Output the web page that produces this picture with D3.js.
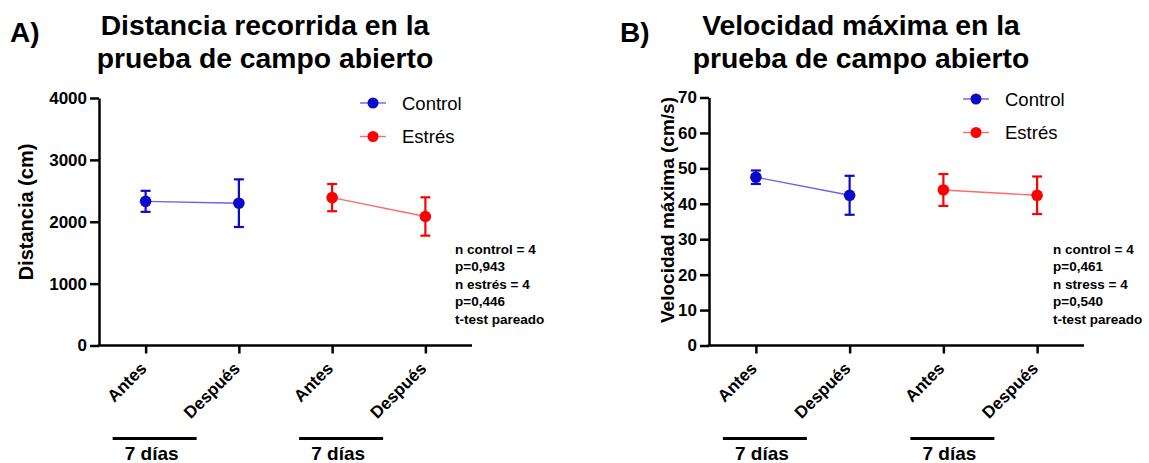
<!DOCTYPE html>
<html>
<head>
<meta charset="utf-8">
<script src="https://cdn.jsdelivr.net/npm/d3@7"></script>
<style>
  body { margin: 0; background: #fff; }
  svg text { font-family: "Liberation Sans", Arial, sans-serif; }
</style>
</head>
<body>
<svg id="chart" width="1149" height="463"></svg>
<script>
// Categories along the x axis (two groups, before / after)
const timepoints = ["Antes", "Después", "Antes", "Después"];
const groupNames = ["Control", "Estrés"];

// Panel A: distance travelled (cm), mean and SEM
const distControlMean = [2330, 2300];
const distControlSem  = [170, 385];
const distStressMean  = [2390, 2085];
const distStressSem   = [220, 310];
const distTicks = [0, 1000, 2000, 3000, 4000];

// Panel B: maximum speed (cm/s), mean and SEM
const velControlMean = [47.5, 42.4];
const velControlSem  = [1.9, 5.5];
const velStressMean  = [43.9, 42.4];
const velStressSem   = [4.5, 5.3];
const velTicks = [0, 10, 20, 30, 40, 50, 60, 70];

const statsA = ["n control = 4", "p=0,943", "n estrés = 4", "p=0,446", "t-test pareado"];
const statsB = ["n control = 4", "p=0,461", "n stress = 4", "p=0,540", "t-test pareado"];

const colors = {
  control: { mark: "#0a0ac8", line: "#6464e6" },
  stress:  { mark: "#ff0000", line: "#ff6a6a" }
};

const svg = d3.select("#chart");

function drawPanel(opt) {
  const g = svg.append("g");
  const x = d3.scalePoint().domain(d3.range(timepoints.length))
    .range([opt.x0, opt.x1]).padding(0.5);
  const y = d3.scaleLinear().domain([0, opt.yMax]).range([opt.yBottom, opt.yTop]);

  // Panel letter and title
  g.append("text").attr("x", opt.letterX).attr("y", 42)
    .attr("font-size", 28).attr("font-weight", "bold").text(opt.letter);
  opt.title.forEach((line, i) => {
    g.append("text").attr("x", opt.titleCx).attr("y", 35 + i * 33)
      .attr("text-anchor", "middle").attr("font-size", 28.3)
      .attr("font-weight", "bold").text(line);
  });

  // Y axis
  const yAxis = g.append("g").attr("transform", `translate(${opt.x0},0)`)
    .call(d3.axisLeft(y).tickValues(opt.ticks).tickFormat(d3.format("d"))
      .tickSize(9).tickPadding(3).tickSizeOuter(0));
  yAxis.select(".domain").attr("stroke", "#000").attr("stroke-width", 2.5);
  yAxis.selectAll(".tick line").attr("stroke", "#000").attr("stroke-width", 2.5);
  yAxis.selectAll(".tick text").attr("font-size", 17).attr("font-weight", "bold")
    .attr("fill", "#000").attr("font-family", "Liberation Sans, Arial, sans-serif");

  // X axis
  const xAxis = g.append("g").attr("transform", `translate(0,${opt.yBottom})`)
    .call(d3.axisBottom(x).tickSize(8).tickSizeOuter(0).tickFormat(() => ""));
  xAxis.select(".domain").attr("stroke", "#000").attr("stroke-width", 2.5)
    .attr("d", `M${opt.x0 - 1.25},0H${opt.x1}`);
  xAxis.selectAll(".tick line").attr("stroke", "#000").attr("stroke-width", 2.5);

  // Rotated category labels
  g.selectAll(".xlab").data(timepoints).join("text")
    .attr("class", "xlab")
    .attr("transform", (d, i) => `translate(${x(i) + 2},${opt.yBottom + 24}) rotate(-45)`)
    .attr("text-anchor", "end").attr("font-size", 17).attr("font-weight", "bold")
    .text(d => d);

  // "7 días" brackets under each pair
  [0, 2].forEach(i => {
    const bx0 = x(i) - 33, bx1 = x(i) + 51;
    g.append("line").attr("x1", bx0).attr("x2", bx1)
      .attr("y1", opt.yBottom + 93).attr("y2", opt.yBottom + 93)
      .attr("stroke", "#000").attr("stroke-width", 3);
    g.append("text").attr("x", x(i) + 6).attr("y", opt.yBottom + 114)
      .attr("text-anchor", "middle").attr("font-size", 19).attr("font-weight", "bold")
      .text("7 días");
  });

  // Y axis title
  g.append("text")
    .attr("transform", `translate(${opt.yLabelX},${opt.yLabelCy}) rotate(-90)`)
    .attr("text-anchor", "middle").attr("font-size", opt.yLabelSize).attr("font-weight", "bold")
    .text(opt.yLabel);

  // Series: connecting line, error bars, mean markers
  const series = [
    { key: "control", mean: opt.controlMean, sem: opt.controlSem, idx: [0, 1] },
    { key: "stress",  mean: opt.stressMean,  sem: opt.stressSem,  idx: [2, 3] }
  ];
  series.forEach(s => {
    const pts = s.mean.map((m, k) => ({ xi: s.idx[k], m, e: s.sem[k] }));
    const c = colors[s.key];
    g.append("path").datum(pts)
      .attr("d", d3.line().x(d => x(d.xi)).y(d => y(d.m)))
      .attr("fill", "none").attr("stroke", c.line).attr("stroke-width", 1.4);
    const eb = g.selectAll(null).data(pts).join("g");
    eb.append("line").attr("x1", d => x(d.xi)).attr("x2", d => x(d.xi))
      .attr("y1", d => y(d.m - d.e)).attr("y2", d => y(d.m + d.e))
      .attr("stroke", c.mark).attr("stroke-width", 2.2);
    [-1, 1].forEach(sign => {
      eb.append("line").attr("x1", d => x(d.xi) - 5).attr("x2", d => x(d.xi) + 5)
        .attr("y1", d => y(d.m + sign * d.e)).attr("y2", d => y(d.m + sign * d.e))
        .attr("stroke", c.mark).attr("stroke-width", 2.2);
    });
    eb.append("circle").attr("cx", d => x(d.xi)).attr("cy", d => y(d.m))
      .attr("r", 5.8).attr("fill", c.mark);
  });

  // Legend
  ["control", "stress"].forEach((k, i) => {
    const ly = opt.legendY + i * 33.5;
    const c = colors[k];
    g.append("line").attr("x1", opt.legendX - 13).attr("x2", opt.legendX + 13)
      .attr("y1", ly).attr("y2", ly).attr("stroke", c.line).attr("stroke-width", 1.4);
    g.append("circle").attr("cx", opt.legendX).attr("cy", ly).attr("r", 5.5).attr("fill", c.mark);
    g.append("text").attr("x", opt.legendX + 29).attr("y", ly + 6.5)
      .attr("font-size", 18.5).text(groupNames[i]);
  });

  // Statistics note
  opt.stats.forEach((line, i) => {
    g.append("text").attr("x", opt.statsX).attr("y", opt.statsY + i * 17.4)
      .attr("font-size", 13.5).attr("font-weight", "bold").text(line);
  });
}

drawPanel({
  letter: "A)", letterX: 10,
  title: ["Distancia recorrida en la", "prueba de campo abierto"], titleCx: 265,
  x0: 99, x1: 472, yTop: 98, yBottom: 345.5, yMax: 4000, ticks: distTicks,
  yLabel: "Distancia (cm)", yLabelX: 33, yLabelCy: 212, yLabelSize: 20,
  controlMean: distControlMean, controlSem: distControlSem,
  stressMean: distStressMean, stressSem: distStressSem,
  legendX: 373, legendY: 103, statsX: 455, statsY: 254, stats: statsA
});

drawPanel({
  letter: "B)", letterX: 620,
  title: ["Velocidad máxima en la", "prueba de campo abierto"], titleCx: 861,
  x0: 709, x1: 1084, yTop: 97.5, yBottom: 345.5, yMax: 70, ticks: velTicks,
  yLabel: "Velocidad máxima (cm/s)", yLabelX: 674, yLabelCy: 210, yLabelSize: 19,
  controlMean: velControlMean, controlSem: velControlSem,
  stressMean: velStressMean, stressSem: velStressSem,
  legendX: 976, legendY: 99, statsX: 1053, statsY: 254, stats: statsB
});
</script>
</body>
</html>
